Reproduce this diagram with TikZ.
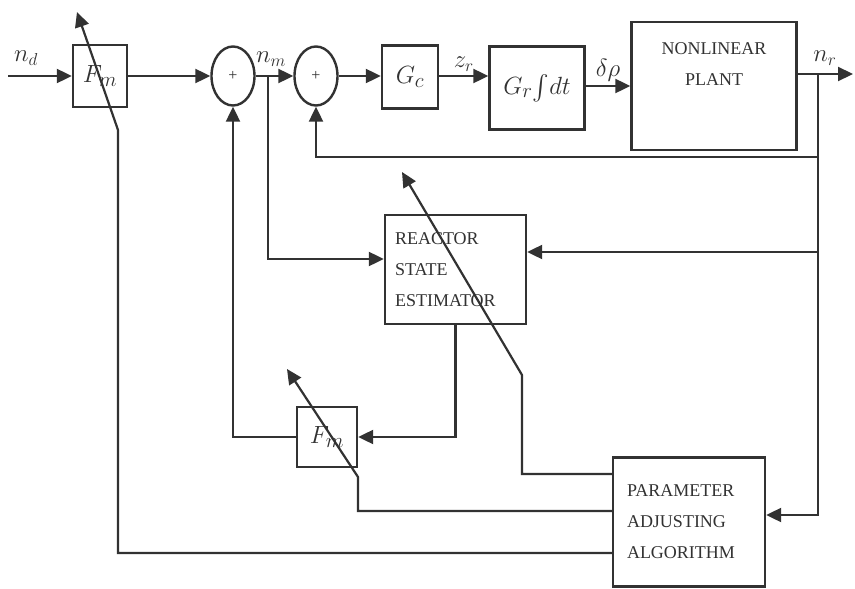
\documentclass[tikz,border=0pt]{standalone}
\usepackage{amsmath}
\usepackage{fontspec}
\setmainfont{Liberation Serif}
\usetikzlibrary{arrows.meta,positioning,shapes.geometric,calc}
\definecolor{ink}{RGB}{50,50,50}
\tikzset{
  >={Triangle[length=15pt,width=14pt]},
  box/.style={draw=ink,line width=2.4pt,inner sep=2pt,text=ink},
  sumnode/.style={ellipse,draw=ink,line width=2.4pt,minimum width=43pt,minimum height=59pt,
    inner sep=0pt,text=ink,font=\fontsize{16}{16}\selectfont},
  flow/.style={->,line width=2.2pt,draw=ink},
  sig/.style={text=ink,font=\fontsize{25}{25}\selectfont},
  mathin/.style={font=\fontsize{31}{31}\selectfont},
  caps/.style={align=left,text=ink,font=\fontsize{18}{31}\selectfont},
}

\begin{document}
\begin{tikzpicture}[x=1pt,y=-1pt]
  \useasboundingbox[fill=white] (0,0) rectangle (855,589);
  % blocks
  \node[box,minimum width=54pt,minimum height=62pt,mathin] (fm1) at (100,76) {$F_m$};
  \node[sumnode] (s1) at (233,76) {+};
  \node[sumnode] (s2) at (316,76) {+};
  \node[box,minimum width=56pt,minimum height=63pt,mathin] (gc) at (410,77) {$G_c$};
  \node[box,minimum width=95pt,minimum height=83pt,mathin] (gr) at (537,88) {$G_r\!\int\! dt$};
  \node[box,minimum width=165pt,minimum height=128pt] (plant) at (714,86) {};
  \node[caps,align=center,below=18pt of plant.north] (plantlbl) {NONLINEAR\\PLANT};
  \node[box,caps,minimum width=141pt,minimum height=109pt,text width=121pt,inner xsep=10pt] (est) at (455.5,269.5) {REACTOR\\STATE\\ESTIMATOR};
  \node[box,minimum width=60pt,minimum height=60pt,mathin] (fm2) at (327,437) {$F_m$};
  \node[box,caps,minimum width=152pt,minimum height=129pt,text width=124pt,inner xsep=14pt] (par) at (689,522) {PARAMETER\\ADJUSTING\\ALGORITHM};

  % forward path
  \coordinate (in) at (8,76);
  \coordinate (jm) at (268,76);
  \coordinate (jr) at (818,74);
  \coordinate (out) at (853,74);
  \draw[flow] (in) -- (fm1.west);
  \node[sig] (ndlbl) at (26,58) {$n_d$};
  \draw[flow] (fm1) -- (s1);
  \draw[flow] (s1) -- (s2);
  \node[sig] (nmlbl) at (271,59) {$n_m$};
  \draw[flow] (s2.east) -- (s2.east -| gc.west);
  \draw[flow] (gc.east |- s2) -- (s2 -| gr.west) node[sig,midway,above] (zlbl) {$z_r$};
  \draw[flow] (gr.east |- plant.west) -- (plant.west) node[sig,midway,above] (dplbl) {$\delta\rho$};
  \draw[flow] (plant.east |- jr) -- (out);
  \node[sig] (nrlbl) at (825,58) {$n_r$};

  % feedback paths
  \coordinate (fb) at (818,157);
  \coordinate (fe) at (818,252);
  \coordinate (pin) at (818,515);
  \coordinate (em) at (268,259);
  \draw[flow] (jr) -- (pin) -- (pin -| par.east);
  \draw[flow] (fb) -| (s2.south);
  \draw[flow] (fe) -- (fe -| est.east);
  \draw[flow] (jm) -- (em) -- (em -| est.west);
  \draw[flow] (est.south) |- (fm2.east);
  \draw[flow] (fm2.west) -| (s1.south);

  % adjusting arrows
  \foreach \y/\x/\k/\tx/\ty in {553/118/130/77/12, 511/358/477/287/369, 474/522/375/402/172}
    \draw[flow] (par.west |- 0,\y) -- (\x,\y) -- (\x,\k) -- (\tx,\ty);
\end{tikzpicture}
\end{document}
